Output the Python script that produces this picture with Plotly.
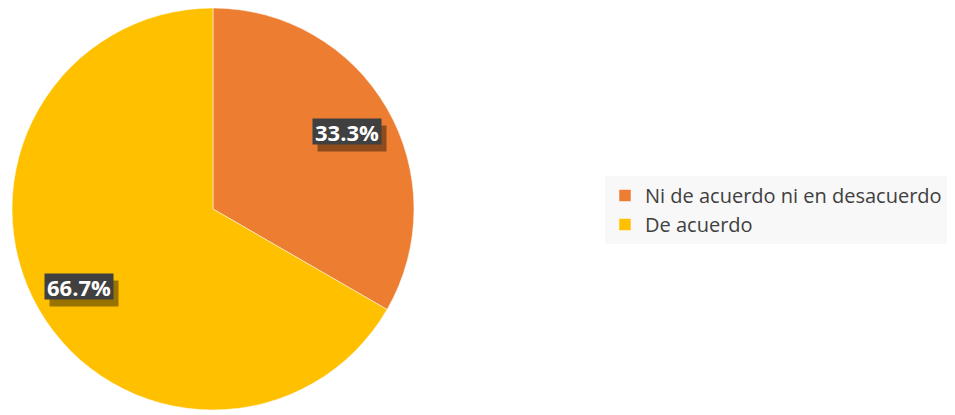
import math
import plotly.graph_objects as go

labels = ["Ni de acuerdo ni en desacuerdo", "De acuerdo"]
values = [1, 2]
colors = ["#ED7D31", "#FFC000"]

OFF = 8  # page body margin
W, H = 955 - OFF, 415 - OFF
cx_px, cy_px, r_px = 213 - OFF, 209 - OFF, 201

fig = go.Figure()
fig.add_trace(go.Pie(
    labels=labels, values=values, sort=False, direction="clockwise", rotation=0,
    marker=dict(colors=colors, line=dict(color="white", width=0.5)),
    textinfo="none", hoverinfo="label+percent",
    domain=dict(x=[max(0, (cx_px - r_px) / W), (cx_px + r_px) / W],
                y=[max(0, (H - cy_px - r_px) / H), min(1, (H - cy_px + r_px) / H)]),
))

# data labels placed from the slice mid-angles
total = sum(values)
cum = 0
for v in values:
    mid = (cum + v / 2) / total * 2 * math.pi
    cum += v
    rr = 155
    px = cx_px + rr * math.sin(mid)
    py = cy_px - rr * math.cos(mid)
    txt = f"{v / total * 100:.1f}%"
    # shadow box (no text)
    fig.add_annotation(
        x=(px + 5) / W, y=(H - (py + 7)) / H, xref="paper", yref="paper",
        xanchor="center", yanchor="middle", text=" ", showarrow=False,
        width=68, height=25, bgcolor="rgba(0,0,0,0.4)", borderpad=0,
        font=dict(family="Open Sans", size=22),
    )
    fig.add_annotation(
        x=px / W, y=(H - py) / H, xref="paper", yref="paper",
        xanchor="center", yanchor="middle",
        text=f"<b>{txt}</b>", showarrow=False, width=68, height=25,
        bgcolor="#404040", borderpad=0,
        font=dict(family="Open Sans", size=22, color="white"),
    )

fig.update_layout(
    width=W, height=H, margin=dict(l=0, r=0, t=0, b=0),
    paper_bgcolor="white", plot_bgcolor="white",
    showlegend=True,
    legend=dict(x=(605 - OFF) / W, xanchor="left", y=1 - (210 - OFF) / H, yanchor="middle",
                bgcolor="#F8F8F8", font=dict(family="Open Sans", size=20, color="#404040"),
                itemwidth=30),
)
fig.write_html("out.html")
